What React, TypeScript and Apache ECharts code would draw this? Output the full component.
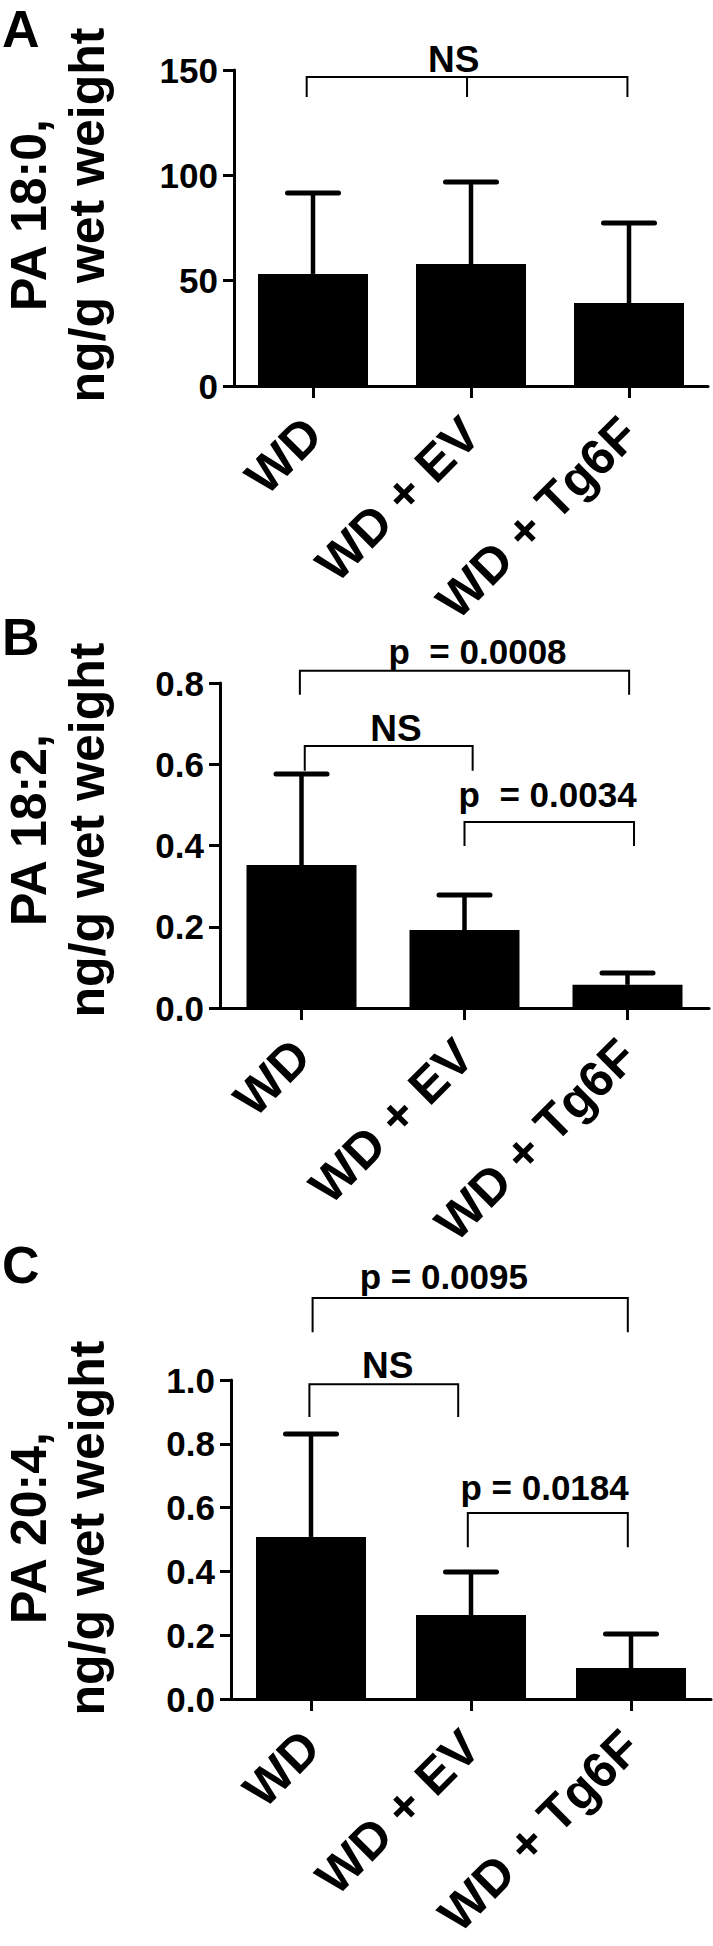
import React, { useEffect, useRef } from "react";
import * as echarts from "echarts";

const categories = ["WD", "WD + EV", "WD + Tg6F"];

// Panel A: PA 18:0
const meanA = [53.2, 57.9, 39.4];
const sdA = [38.4, 38.9, 38.0];
// Panel B: PA 18:2
const meanB = [0.352, 0.192, 0.057];
const sdB = [0.224, 0.086, 0.029];
// Panel C: PA 20:4
const meanC = [0.508, 0.263, 0.097];
const sdC = [0.323, 0.135, 0.107];

const panelLetters = ["A", "B", "C"];
const yTitleLine1 = ["PA 18:0,", "PA 18:2,", "PA 20:4,"];
const yTitleLine2 = ["ng/g wet weight", "ng/g wet weight", "ng/g wet weight"];
const yMax = [150, 0.8, 1.0];
const yInterval = [50, 0.2, 0.2];
const yDecimals = [0, 1, 1];

// significance brackets: [from, to, mid (-1 = none), top, foot, labelX, labelBaseline]
const bracketsA = [[-0.04, 1.99, 0.975, 146.7, 137.2, 0.89, 149.0]];
const bracketLabelsA = ["NS"];
const bracketsB = [
  [-0.01, 2.01, -1, 0.83, 0.771, 1.08, 0.847],
  [0.02, 1.05, -1, 0.645, 0.584, 0.58, 0.655],
  [1.0, 2.04, -1, 0.458, 0.399, 1.51, 0.495],
];
const bracketLabelsB = ["p  = 0.0008", "NS", "p  = 0.0034"];
const bracketsC = [
  [0.01, 1.98, -1, 1.257, 1.15, 0.83, 1.285],
  [-0.01, 0.92, -1, 0.987, 0.884, 0.48, 1.006],
  [0.98, 1.98, -1, 0.583, 0.476, 1.46, 0.624],
];
const bracketLabelsC = ["p = 0.0095", "NS", "p = 0.0184"];

const FONT = '"Liberation Sans", Arial, Helvetica, sans-serif';

const grids = [
  { left: 234, top: 70, width: 474, height: 316 },
  { left: 220, top: 683, width: 489, height: 325 },
  { left: 231, top: 1380, width: 480, height: 319 },
];
const letterY = [29, 637, 1265];
const titleCenterY = [215, 830, 1528];

export default function App() {
  const ref = useRef<HTMLDivElement>(null);
  useEffect(() => {
    document.body.style.margin = "0";
    const chart = echarts.init(ref.current!, null, { renderer: "svg" });
    const means = [meanA, meanB, meanC];
    const sds = [sdA, sdB, sdC];
    const brackets = [bracketsA, bracketsB, bracketsC];
    const bracketLabels = [bracketLabelsA, bracketLabelsB, bracketLabelsC];

    const series: any[] = [];
    for (let i = 0; i < 3; i++) {
      series.push({
        type: "bar",
        xAxisIndex: i,
        yAxisIndex: i,
        data: means[i],
        barWidth: 110,
        itemStyle: { color: "#000" },
        z: 3,
      });
      series.push({
        type: "custom",
        xAxisIndex: i,
        yAxisIndex: i,
        data: means[i].map((m, k) => [k, m, sds[i][k]]),
        encode: { x: 0, y: 1 },
        z: 2,
        renderItem: (params: any, api: any) => {
          const k = api.value(0);
          const m = api.value(1);
          const s = api.value(2);
          const base = api.coord([k, m]);
          const top = api.coord([k, m + s]);
          return {
            type: "group",
            children: [
              {
                type: "line",
                shape: { x1: base[0], y1: base[1], x2: top[0], y2: top[1] },
                style: { stroke: "#000", lineWidth: 4.5 },
              },
              {
                type: "line",
                shape: { x1: top[0] - 25.5, y1: top[1], x2: top[0] + 25.5, y2: top[1] },
                style: { stroke: "#000", lineWidth: 5, lineCap: "round" },
              },
            ],
          };
        },
      });
      const labels = bracketLabels[i];
      series.push({
        type: "custom",
        xAxisIndex: i,
        yAxisIndex: i,
        data: brackets[i].map((r) => [1, ...r]),
        encode: { x: 0, y: 4 },
        z: 4,
        renderItem: (params: any, api: any) => {
          const from = api.value(1);
          const to = api.value(2);
          const mid = api.value(3);
          const top = api.value(4);
          const foot = api.value(5);
          const lx = api.value(6);
          const ly = api.value(7);
          const a = api.coord([0, top]);
          const b = api.coord([1, top]);
          const band = b[0] - a[0];
          const X = (v: number) => a[0] + band * v;
          const yTop = a[1];
          const yFoot = api.coord([0, foot])[1];
          const yLab = api.coord([0, ly])[1];
          const label = labels[params.dataIndex];
          const fs = label === "NS" ? 37 : 35;
          const children: any[] = [
            {
              type: "polyline",
              shape: {
                points: [
                  [X(from), yFoot],
                  [X(from), yTop],
                  [X(to), yTop],
                  [X(to), yFoot],
                ],
              },
              style: { stroke: "#000", lineWidth: 2, fill: "none" },
            },
          ];
          if (mid >= 0) {
            children.push({
              type: "line",
              shape: { x1: X(mid), y1: yTop, x2: X(mid), y2: yFoot },
              style: { stroke: "#000", lineWidth: 2 },
            });
          }
          children.push({
            type: "text",
            x: X(lx),
            y: yLab - 0.35 * fs,
            style: {
              text: label,
              fontFamily: FONT,
              fontWeight: "bold",
              fontSize: fs,
              fill: "#000",
              align: "center",
              verticalAlign: "middle",
              textAlign: "center",
              textVerticalAlign: "middle",
            },
          });
          return { type: "group", children };
        },
      });
    }

    const graphic: any[] = [];
    for (let i = 0; i < 3; i++) {
      graphic.push({
        type: "text",
        x: 2,
        y: letterY[i],
        style: {
          text: panelLetters[i],
          font: `bold 52px ${FONT}`,
          lineHeight: 44,
          fill: "#000",
          align: "left",
          verticalAlign: "middle",
          textAlign: "left",
          textVerticalAlign: "middle",
        },
      });
      [yTitleLine1[i], yTitleLine2[i]].forEach((t, j) => {
        graphic.push({
          type: "text",
          x: j === 0 ? 29 : 87,
          y: titleCenterY[i],
          rotation: Math.PI / 2,
          style: {
            text: t,
            font: `bold 50px ${FONT}`,
            lineHeight: 40,
            fill: "#000",
            align: "center",
            verticalAlign: "middle",
            textAlign: "center",
            textVerticalAlign: "middle",
          },
        });
      });
    }

    chart.setOption({
      animation: false,
      grid: grids.map((g) => ({ ...g, containLabel: false, outerBoundsMode: "none" })),
      xAxis: grids.map((_, i) => ({
        type: "category",
        gridIndex: i,
        data: categories,
        axisLine: { show: true, lineStyle: { color: "#000", width: 3 } },
        axisTick: { show: true, alignWithLabel: true, length: 12, lineStyle: { color: "#000", width: 3 } },
        axisLabel: {
          interval: 0,
          rotate: 45,
          margin: 40,
          color: "#000",
          fontFamily: FONT,
          fontWeight: "bold",
          fontSize: 50,
        },
        splitLine: { show: false },
      })),
      yAxis: grids.map((_, i) => ({
        type: "value",
        gridIndex: i,
        min: 0,
        max: yMax[i],
        interval: yInterval[i],
        axisLine: { show: true, onZero: false, lineStyle: { color: "#000", width: 3 } },
        axisTick: { show: true, length: 11, lineStyle: { color: "#000", width: 3 } },
        axisLabel: {
          margin: 16,
          color: "#000",
          fontFamily: FONT,
          fontWeight: "bold",
          fontSize: 35,
          formatter: (v: number) => v.toFixed(yDecimals[i]),
        },
        splitLine: { show: false },
      })),
      series,
      graphic,
    });
    return () => chart.dispose();
  }, []);
  return <div ref={ref} style={{ width: 713, height: 1946 }} />;
}
